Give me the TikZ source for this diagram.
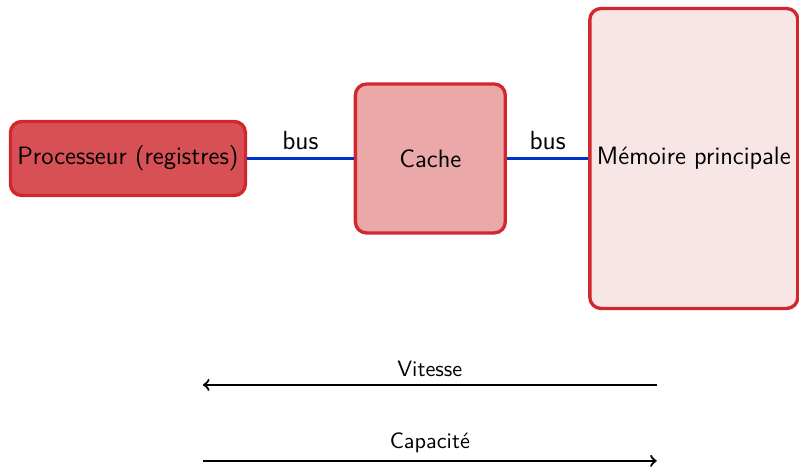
\documentclass[tikz,border=0pt]{standalone}
\usepackage{fontspec}
\usepackage{tikz}

\definecolor{bordrouge}{RGB}{208,40,46}
\definecolor{procfill}{RGB}{215,80,85}
\definecolor{cachefill}{RGB}{235,168,168}
\definecolor{memfill}{RGB}{248,230,230}
\definecolor{busbleu}{RGB}{0,51,204}

\tikzset{
    bloc/.style={draw=bordrouge, line width=1.5pt, rounded corners=5pt, inner sep=1pt, font=\sffamily\fontsize{11.3}{13}\selectfont},
    bus/.style={busbleu, line width=1.5pt},
    sens/.style={->, line width=1pt}
}

\begin{document}
\begin{tikzpicture}[font=\sffamily]
    \useasboundingbox (0,0) rectangle (12.64,7.386);
    \node[bloc, fill=procfill, minimum width=3.717cm, minimum height=1.17cm] (proc) at (2.024,4.879) {Processeur (registres)};
    \node[bloc, fill=cachefill, minimum width=2.372cm, minimum height=2.356cm] (cache) at (6.808,4.879) {Cache};
    \node[bloc, fill=memfill, minimum width=3.29cm, minimum height=4.745cm] (mem) at (10.976,4.879) {Mémoire principale};
    \draw[bus] (proc.east) -- (cache.west) node[midway, above, black, font=\sffamily\fontsize{11.8}{13}\selectfont] (bus1) {bus};
    \draw[bus] (cache.east) -- (mem.west) node[midway, above, black, font=\sffamily\fontsize{11.8}{13}\selectfont] (bus2) {bus};
    \coordinate (vdebut) at (10.39,1.297);
    \coordinate (vfin) at (3.21,1.297);
    \coordinate (cdebut) at (3.21,0.095);
    \coordinate (cfin) at (10.39,0.095);
    \draw[sens] (vdebut) -- (vfin) node[midway, above] (vitesse) {Vitesse};
    \draw[sens] (cdebut) -- (cfin) node[midway, above] (capacite) {Capacité};
\end{tikzpicture}
\end{document}
